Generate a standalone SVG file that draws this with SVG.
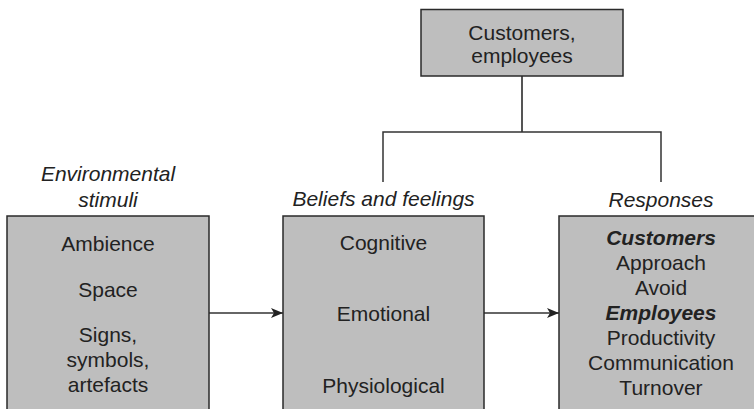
<svg xmlns="http://www.w3.org/2000/svg" width="754" height="409" viewBox="0 0 754 409">
<style>
.box{fill:#bebebe;stroke:#2a2a2a;stroke-width:1.5}
text{font-family:"Liberation Sans",Arial,Helvetica,sans-serif;font-size:21px;fill:#222;text-anchor:middle}
.it{font-style:italic}
.bi{font-style:italic;font-weight:bold}
.conn{fill:none;stroke:#333;stroke-width:1.5}
</style>
<defs>
<marker id="arr" viewBox="0 0 12 10" refX="12" refY="5" markerWidth="12" markerHeight="10" markerUnits="userSpaceOnUse" orient="auto">
<path d="M0,0 L12,5 L0,10 L3,5 Z" fill="#222"/>
</marker>
</defs>
<rect width="754" height="409" fill="#fff"/>
<g id="connectors">
<path class="conn" d="M522,76 V132" style="stroke:#555;stroke-width:2"/>
<path class="conn" d="M383,182 V132 H661 V182"/>
<path class="conn" d="M209,313 H283" marker-end="url(#arr)"/>
<path class="conn" d="M484,313 H559" marker-end="url(#arr)"/>
</g>
<g id="customers-employees">
<rect class="box" x="421" y="9.5" width="202" height="66.5"/>
<text x="522" y="40">Customers,</text>
<text x="522" y="63">employees</text>
</g>
<g id="environmental-stimuli">
<text class="it" x="108" y="181">Environmental</text>
<text class="it" x="108" y="207">stimuli</text>
<rect class="box" x="7" y="216" width="202" height="200"/>
<text x="108" y="251">Ambience</text>
<text x="108" y="297">Space</text>
<text x="108" y="342">Signs,</text>
<text x="108" y="367">symbols,</text>
<text x="108" y="392">artefacts</text>
</g>
<g id="beliefs-feelings">
<text class="it" x="383.5" y="206">Beliefs and feelings</text>
<rect class="box" x="283" y="216" width="201" height="200"/>
<text x="383.5" y="250">Cognitive</text>
<text x="383.5" y="321">Emotional</text>
<text x="383.5" y="393">Physiological</text>
</g>
<g id="responses">
<text class="it" x="661" y="207">Responses</text>
<rect class="box" x="559" y="216" width="203" height="200"/>
<text class="bi" x="661" y="245">Customers</text>
<text x="661" y="270">Approach</text>
<text x="661" y="295">Avoid</text>
<text class="bi" x="661" y="320">Employees</text>
<text x="661" y="345">Productivity</text>
<text x="661" y="370">Communication</text>
<text x="661" y="395">Turnover</text>
</g>
</svg>
